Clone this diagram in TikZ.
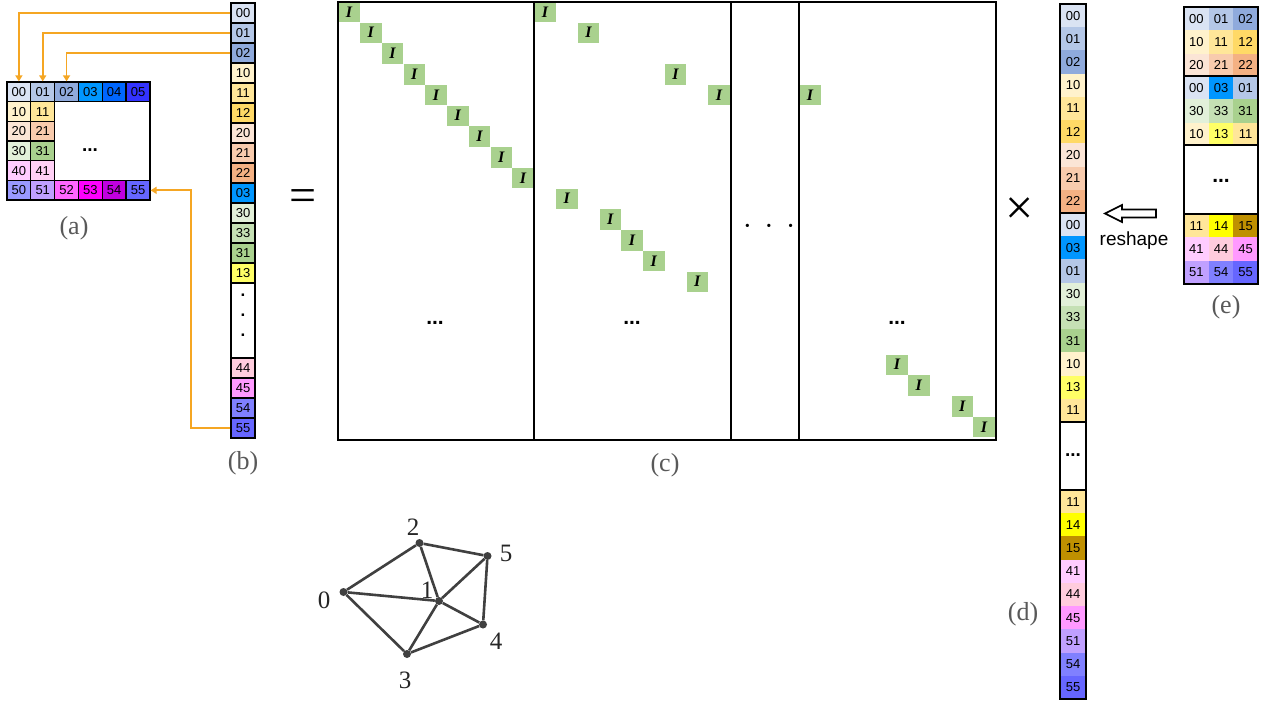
\documentclass[tikz,border=0pt]{standalone}
\usepackage{fontspec}
\setmainfont{Liberation Serif}
\newfontfamily\cellfont{Liberation Sans}
\usetikzlibrary{arrows.meta}
\definecolor{c00}{HTML}{DAE3F3}
\definecolor{c01}{HTML}{B4C7E7}
\definecolor{c02}{HTML}{8FAADC}
\definecolor{c03}{HTML}{0096FF}
\definecolor{c04}{HTML}{0066FF}
\definecolor{c05}{HTML}{3333FF}
\definecolor{c10}{HTML}{FFF2CC}
\definecolor{c11}{HTML}{FFE699}
\definecolor{c12}{HTML}{FFD966}
\definecolor{c13}{HTML}{FFFF66}
\definecolor{c14}{HTML}{FFFF00}
\definecolor{c15}{HTML}{BF9000}
\definecolor{c20}{HTML}{FBE5D6}
\definecolor{c21}{HTML}{F8CBAD}
\definecolor{c22}{HTML}{F4B183}
\definecolor{c30}{HTML}{E2F0D9}
\definecolor{c31}{HTML}{A9D18E}
\definecolor{c33}{HTML}{C5E0B4}
\definecolor{c40}{HTML}{FFCCFF}
\definecolor{c41}{HTML}{FFD0F5}
\definecolor{c44}{HTML}{FFCCDD}
\definecolor{c45}{HTML}{FF99FF}
\definecolor{c50}{HTML}{9999FF}
\definecolor{c51}{HTML}{C0A0FF}
\definecolor{c52}{HTML}{FF66FF}
\definecolor{c53}{HTML}{FF00FF}
\definecolor{c54a}{HTML}{C000E0}
\definecolor{c54}{HTML}{8080FF}
\definecolor{c55}{HTML}{6666FF}
\definecolor{igreen}{HTML}{A9D18E}
\definecolor{orng}{HTML}{F5A623}
\definecolor{gline}{HTML}{404040}
\definecolor{labgrey}{HTML}{595959}
\begin{document}
\begin{tikzpicture}[x=1pt,y=-1pt,
  cellbase/.style={inner sep=0pt,font=\cellfont\fontsize{13}{13}\selectfont,text=black},
  acell/.style={cellbase,draw=black,line width=1.3pt,minimum width=23.83pt,minimum height=19.7pt},
  bcell/.style={cellbase,draw=black,line width=1.3pt,minimum width=24pt,minimum height=20pt},
  dcell/.style={cellbase,minimum width=26pt,minimum height=23.22pt},
  ecell/.style={cellbase,minimum width=24.67pt,minimum height=23.3pt},
  icell/.style={inner sep=0pt,fill=igreen,minimum width=21.5pt,minimum height=20.5pt,font=\bfseries\itshape\fontsize{16}{16}\selectfont},
  frame/.style={draw=black,line width=1.8pt},
  oarrow/.style={draw=orng,line width=1.8pt,-{Triangle[width=7pt,length=6pt]}},
  sublabel/.style={font=\fontsize{26}{28}\selectfont,text=labgrey},
  gdot/.style={circle,fill=gline,inner sep=0pt,minimum size=8pt},
  gedge/.style={draw=gline,line width=2.6pt},
  glab/.style={font=\fontsize{25}{25}\selectfont,text=black!85},
  bigdots/.style={font=\cellfont\bfseries\fontsize{19}{19}\selectfont}]
\fill[white] (0,0) rectangle (1264,704);
\useasboundingbox (0,0) rectangle (1264,704);

% ---------------- (a) ----------------
\foreach \lab/\col [count=\i from 0] in {00/c00,01/c01,02/c02,03/c03,04/c04,05/c05}
  \node[acell,fill=\col] (a\lab) at (18.9+23.83*\i,91.85) {\lab};
\foreach \r/\la/\ca/\lb/\cb in {1/10/c10/11/c11,2/20/c20/21/c21,3/30/c30/31/c31,4/40/c40/41/c41}{
  \node[acell,fill=\ca] (a\la) at (18.9,91.85+19.7*\r) {\la};
  \node[acell,fill=\cb] (a\lb) at (42.73,91.85+19.7*\r) {\lb};
}
\foreach \lab/\col [count=\i from 0] in {50/c50,51/c51,52/c52,53/c53,54/c54a,55/c55}
  \node[acell,fill=\col] (a\lab) at (18.9+23.83*\i,190.35) {\lab};
\draw[line width=1.3pt] (54.66,101.7) rectangle (150.0,180.5);
\node[bigdots] (adots) at (90,150) {...};
\draw[line width=1.7pt] (7,82) rectangle (150,200.2);
\node[sublabel] (la) at (74,228) {(a)};

% ---------------- (b) ----------------
\foreach \lab/\col [count=\i from 0] in {00/c00,01/c01,02/c02,10/c10,11/c11,12/c12,20/c20,21/c21,22/c22,03/c03,30/c30,33/c33,31/c31,13/c13}
  \node[bcell,fill=\col] (b\lab) at (243,13+20*\i) {\lab};
\draw[line width=1.3pt] (231,283) rectangle (255,358);
\foreach \j in {0,1,2}
  \node[font=\cellfont\bfseries\fontsize{17}{17}\selectfont] (bdot\j) at (243,295+20*\j) {.};
\foreach \lab/\col [count=\i from 0] in {44/c44,45/c45,54/c54,55/c55}
  \node[bcell,fill=\col] (b\lab) at (243,368+20*\i) {\lab};
\draw[line width=1.7pt] (231,3) rectangle (255,438);
\node[sublabel] (lb) at (243,463) {(b)};

% orange arrows
\draw[oarrow] (b00.west) -| (a00.north);
\draw[oarrow] (b01.west) -| (a01.north);
\draw[oarrow] (b02.west) -| (a02.north);
\coordinate (t55) at (191,190.35);
\draw[oarrow] (b55.west) -| (t55) -- (a55.east);

% equals
\node[font=\fontsize{48}{48}\selectfont] (eq) at (303.5,201) {=};

% ---------------- (c) ----------------
\foreach \k in {0,...,8}
  \node[icell] (i1\k) at (349+21.75*\k,12+20.75*\k) {I};
\foreach \c/\r [count=\n] in {0/0,2/1,6/3,8/4,1/9,3/10,4/11,5/12,7/13}
  \node[icell] (i2\n) at (545+21.75*\c,12+20.75*\r) {I};
\foreach \c/\r [count=\n] in {0/4,4/17,5/18,7/19,8/20}
  \node[icell] (i4\n) at (810+21.75*\c,12+20.75*\r) {I};
\draw[frame] (338,2) rectangle (996,440);
\draw[frame] (534,2) -- (534,440);
\draw[frame] (731,2) -- (731,440);
\draw[frame] (799,2) -- (799,440);
\node[bigdots,font=\cellfont\bfseries\fontsize{21}{21}\selectfont] (cd1) at (435,323) {...};
\node[bigdots,font=\cellfont\bfseries\fontsize{21}{21}\selectfont] (cd2) at (632,323) {...};
\node[bigdots,font=\cellfont\bfseries\fontsize{21}{21}\selectfont] (cd4) at (897,323) {...};
\node[font=\bfseries\fontsize{20}{20}\selectfont] (cd3) at (769,228) {·\hspace{15pt}·\hspace{15pt}·};
\node[sublabel] (lc) at (665,465) {(c)};

% times
\node[font=\fontsize{50}{50}\selectfont] (times) at (1020,211) {×};

% ---------------- (d) ----------------
\foreach \lab/\col [count=\i from 0] in {00/c00,01/c01,02/c02,10/c10,11/c11,12/c12,20/c20,21/c21,22/c22}
  \node[dcell,fill=\col] (dA\i) at (1073,15.61+23.22*\i) {\lab};
\foreach \lab/\col [count=\i from 0] in {00/c00,03/c03,01/c01,30/c30,33/c33,31/c31,10/c10,13/c13,11/c11}
  \node[dcell,fill=\col] (dB\i) at (1073,224.61+23.22*\i) {\lab};
\foreach \lab/\col [count=\i from 0] in {11/c11,14/c14,15/c15,41/c40,44/c44,45/c45,51/c51,54/c54,55/c55}
  \node[dcell,fill=\col] (dC\i) at (1073,501.61+23.22*\i) {\lab};
\draw[line width=2pt] (1060,4) rectangle (1086,213);
\draw[line width=2pt] (1060,213) rectangle (1086,422);
\draw[line width=2pt] (1060,422) rectangle (1086,490);
\draw[line width=2pt] (1060,490) rectangle (1086,699);
\node[bigdots] (ddots) at (1073,455) {...};
\node[sublabel] (ld) at (1023,614) {(d)};

% reshape arrow
\draw[line width=1.6pt,line join=miter] (1105,213.5) -- (1122,205) -- (1122,209.5) -- (1156,209.5) -- (1156,217.5) -- (1122,217.5) -- (1122,222) -- cycle;
\node[font=\cellfont\fontsize{19}{19}\selectfont] (resh) at (1134,241) {reshape};

% ---------------- (e) ----------------
\foreach \lab/\col [count=\i from 0] in {00/c00,01/c01,02/c02,10/c10,11/c11,12/c12,20/c20,21/c21,22/c22}
  \node[ecell,fill=\col] (eA\i) at ({1196.33+24.67*mod(\i,3)},{18.65+23.3*int(\i/3)}) {\lab};
\foreach \lab/\col [count=\i from 0] in {00/c00,03/c03,01/c01,30/c30,33/c33,31/c31,10/c10,13/c13,11/c11}
  \node[ecell,fill=\col] (eB\i) at ({1196.33+24.67*mod(\i,3)},{87.65+23.3*int(\i/3)}) {\lab};
\foreach \lab/\col [count=\i from 0] in {11/c11,14/c14,15/c15,41/c40,44/c44,45/c45,51/c51,54/c54,55/c55}
  \node[ecell,fill=\col] (eC\i) at ({1196.33+24.67*mod(\i,3)},{225.65+23.3*int(\i/3)}) {\lab};
\draw[line width=2pt] (1184,7) rectangle (1258,76);
\draw[line width=2pt] (1184,76) rectangle (1258,145);
\draw[line width=2pt] (1184,145) rectangle (1258,214);
\draw[line width=2pt] (1184,214) rectangle (1258,284);
\node[bigdots,font=\cellfont\bfseries\fontsize{21}{21}\selectfont] (edots) at (1221,181) {...};
\node[sublabel] (le) at (1226,307) {(e)};

% ---------------- graph ----------------
\node[gdot] (g0) at (343.5,592) {};
\node[gdot] (g1) at (439,601) {};
\node[gdot] (g2) at (419.5,543) {};
\node[gdot] (g3) at (407,654) {};
\node[gdot] (g4) at (483,624.5) {};
\node[gdot] (g5) at (487.5,556) {};
\foreach \u/\v in {0/2,0/1,0/3,2/1,2/5,5/1,5/4,1/4,1/3,3/4}
  \draw[gedge] (g\u) -- (g\v);
\node[glab] (l0) at (324,600) {0};
\node[glab] (l1) at (427,590) {1};
\node[glab] (l2) at (413,527) {2};
\node[glab] (l3) at (405,680) {3};
\node[glab] (l4) at (496,641) {4};
\node[glab] (l5) at (506,553) {5};
\end{tikzpicture}
\end{document}
